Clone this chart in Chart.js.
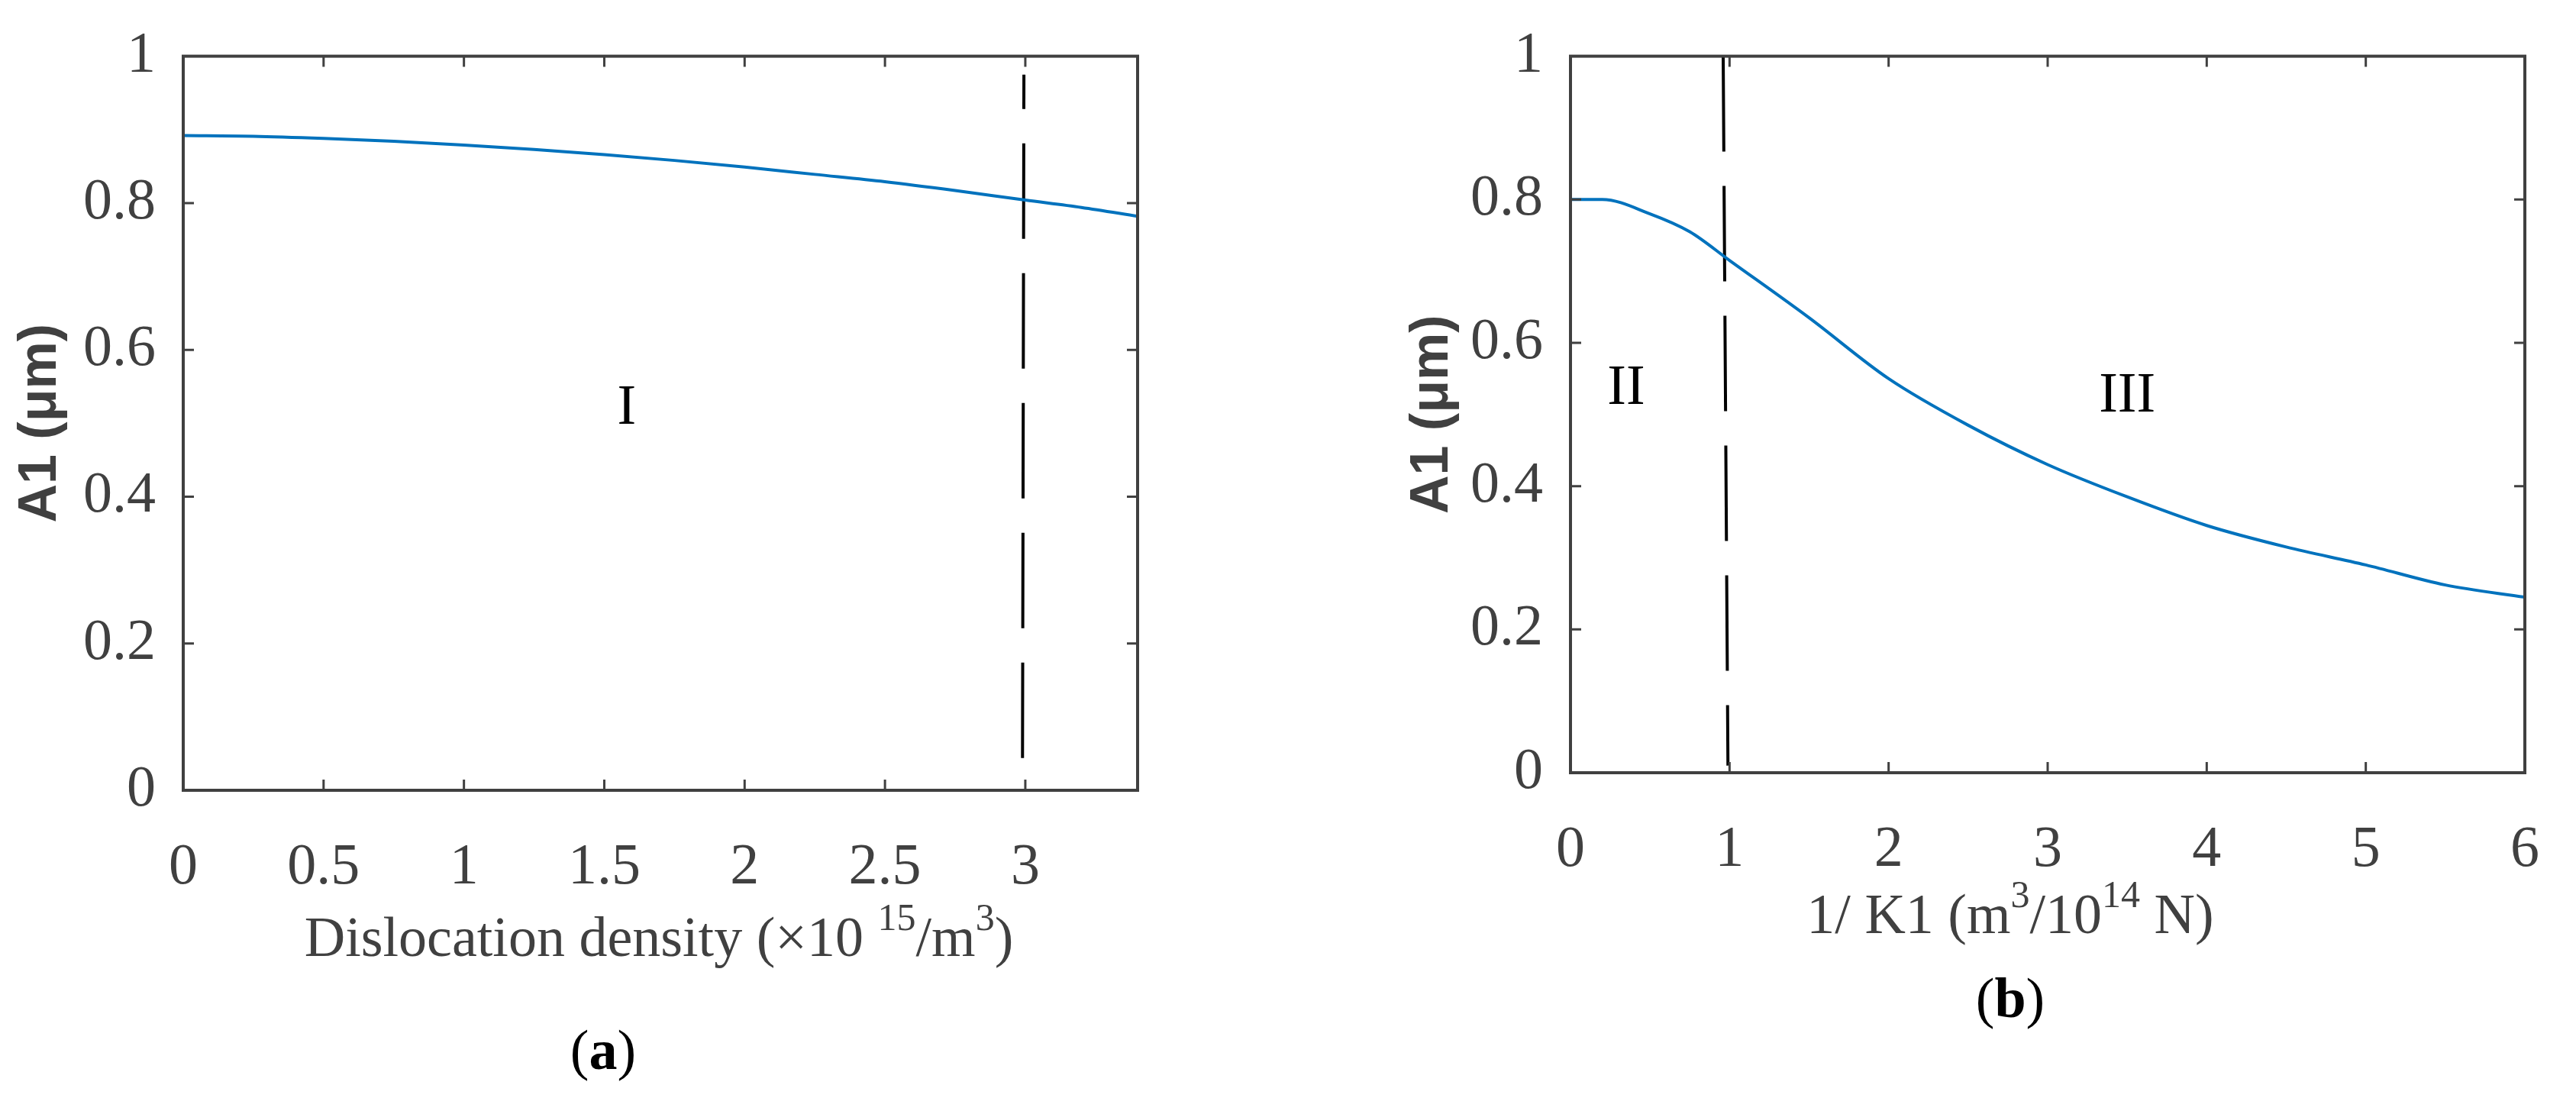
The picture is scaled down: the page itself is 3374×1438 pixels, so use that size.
<!DOCTYPE html>
<html><head><meta charset="utf-8">
<script src="https://cdn.jsdelivr.net/npm/chart.js@4"></script>
<style>body{margin:0;background:#fff;width:3374px;height:1438px;position:relative;overflow:hidden}
.c{position:absolute;top:0;height:1438px}</style></head><body>
<div class="c" style="left:0;width:1560px"><canvas id="a"></canvas></div>
<div class="c" style="left:1700px;width:1674px"><canvas id="b"></canvas></div>
<script>
const xA=[0,0.25,0.5,0.75,1,1.25,1.5,1.75,2,2.25,2.5,2.75,3,3.2,3.4];
const yA=[0.892,0.891,0.888,0.884,0.879,0.873,0.866,0.858,0.849,0.839,0.829,0.817,0.804,0.794,0.782];
const dashA_x=[2.99,2.995];const dashA_y=[0.044,0.975];
const xB=[0,0.2,0.5,0.75,1,1.5,2,2.5,3,3.5,4,4.5,5,5.5,6];
const yB=[0.80,0.80,0.78,0.755,0.715,0.635,0.55,0.485,0.43,0.385,0.345,0.315,0.29,0.262,0.245];
const dashB_x=[0.96,0.99];const dashB_y=[1.0,0.01];
const yTicks=[0,0.2,0.4,0.6,0.8,1];
const xTicksA=[0,0.5,1,1.5,2,2.5,3];
const xTicksB=[0,1,2,3,4,5,6];
const TXT='#404040';
function pts(xs,ys){return xs.map((x,i)=>({x,y:ys[i]}));}
function drawRich(ctx,parts,cx,y){
  let w=0;parts.forEach(p=>{ctx.font=p[1]?'50px "Liberation Serif"':'74px "Liberation Serif"';w+=ctx.measureText(p[0]).width;});
  let x=cx-w/2;ctx.textAlign='left';ctx.textBaseline='alphabetic';
  parts.forEach(p=>{ctx.font=p[1]?'50px "Liberation Serif"':'74px "Liberation Serif"';ctx.fillText(p[0],x,p[1]?y-34:y);x+=ctx.measureText(p[0]).width;});
}
function make(id,cfg){
  const decor={id:'decor',afterDraw(ch){
    const c=ch.ctx,a=ch.chartArea,xs=ch.scales.x,ys=ch.scales.y;
    c.save();c.strokeStyle='#404040';c.lineWidth=4;c.strokeRect(a.left,a.top,a.right-a.left,a.bottom-a.top);
    c.lineWidth=3;
    cfg.xt.forEach(v=>{const p=xs.getPixelForValue(v);c.beginPath();c.moveTo(p,a.bottom);c.lineTo(p,a.bottom-14);c.moveTo(p,a.top);c.lineTo(p,a.top+14);c.stroke();});
    yTicks.forEach(v=>{const p=ys.getPixelForValue(v);c.beginPath();c.moveTo(a.left,p);c.lineTo(a.left+14,p);c.moveTo(a.right,p);c.lineTo(a.right-14,p);c.stroke();});
    c.fillStyle='#000';c.font='74px "Liberation Serif"';c.textAlign='center';c.textBaseline='middle';
    cfg.regions.forEach(r=>c.fillText(r[0],xs.getPixelForValue(r[1]),ys.getPixelForValue(r[2])));
    c.fillStyle=TXT;drawRich(c,cfg.xtitle,cfg.xtx,cfg.xty);
    c.save();c.translate(cfg.ytx,(a.top+a.bottom)/2);c.rotate(-Math.PI/2);c.font='bold 70px "Liberation Sans"';c.textAlign='center';c.textBaseline='middle';c.fillText('A1 (\u03bcm)',0,0);c.restore();
    c.fillStyle='#000';c.font='74px "Liberation Serif"';
    const s=cfg.cap;const w1=c.measureText('(').width;c.font='bold 74px "Liberation Serif"';const w2=c.measureText(s).width;
    let x=cfg.capx-(2*w1+w2)/2;c.textAlign='left';c.textBaseline='alphabetic';c.font='74px "Liberation Serif"';c.fillText('(',x,cfg.capy);x+=w1;
    c.font='bold 74px "Liberation Serif"';c.fillText(s,x,cfg.capy);x+=w2;c.font='74px "Liberation Serif"';c.fillText(')',x,cfg.capy);
    c.restore();}};
  return new Chart(document.getElementById(id),{type:'scatter',
    data:{datasets:[{data:pts(cfg.xd,cfg.yd),showLine:true,borderColor:'#0072BD',borderWidth:4,pointRadius:0,cubicInterpolationMode:'monotone'},
      {data:pts(cfg.dx,cfg.dy),showLine:true,borderColor:'#000',borderWidth:4,borderDash:[125,45],pointRadius:0}]},
    options:{responsive:true,maintainAspectRatio:false,animation:false,devicePixelRatio:1,
      layout:{padding:{top:cfg.top,right:cfg.right,left:0,bottom:0}},
      plugins:{legend:{display:false},tooltip:{enabled:false}},
      scales:{
        x:{type:'linear',min:0,max:cfg.xmax,afterBuildTicks(s){s.ticks=cfg.xt.map(v=>({value:v}));},
          afterFit(s){s.height=cfg.xh;},grid:{display:false},border:{display:false},
          ticks:{color:TXT,font:{family:'Liberation Serif',size:76},padding:48,maxRotation:0,autoSkip:false,callback:v=>String(v)}},
        y:{type:'linear',min:0,max:1,afterBuildTicks(s){s.ticks=yTicks.map(v=>({value:v}));},
          afterFit(s){s.width=cfg.yw;},grid:{display:false},border:{display:false},
          ticks:{color:TXT,font:{family:'Liberation Serif',size:76},padding:28,callback:v=>String(v)}}}},
    plugins:[decor]});
}
make('a',{xd:xA,yd:yA,dx:dashA_x,dy:dashA_y,xt:xTicksA,xmax:3.4,top:67,right:70,xh:403,yw:240,
  regions:[['I',1.58,0.52]],xtitle:[['Dislocation density (\u00d710 '],['15',1],['/m'],['3',1],[')']],xtx:863,xty:1252,
  ytx:54,cap:'a',capx:790,capy:1400});
make('b',{xd:xB,yd:yB,dx:dashB_x,dy:dashB_y,xt:xTicksB,xmax:6,top:39,right:39,xh:426,yw:357,
  regions:[['II',0.35,0.535],['III',3.5,0.525]],xtitle:[['1/ K1 (m'],['3',1],['/10'],['14',1],[' N)']],xtx:933,xty:1222,
  ytx:177,cap:'b',capx:933,capy:1332});
</script></body></html>
